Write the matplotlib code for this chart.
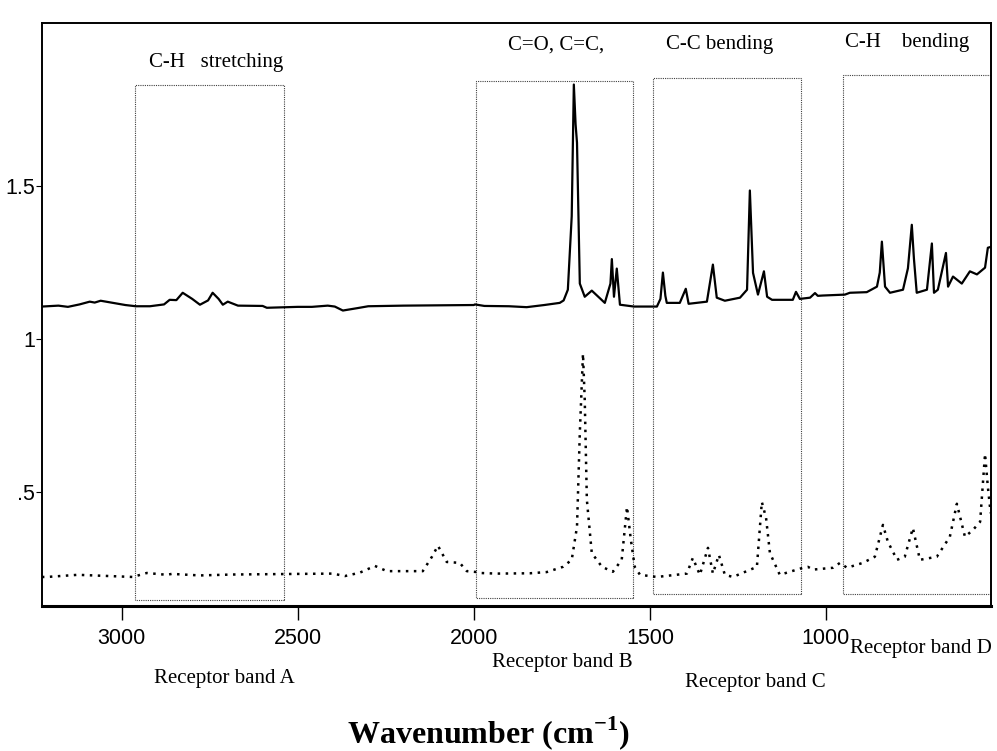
"""
IR spectra with receptor band boxes
"""

import matplotlib.pyplot as plt
from matplotlib.patches import Rectangle

plt.rcParams['mathtext.fontset'] = 'custom'
plt.rcParams['mathtext.rm'] = 'Liberation Serif'
plt.rcParams['mathtext.bf'] = 'Liberation Serif:bold'

# solid spectrum (wavenumber, absorbance)
solid_wn = [3227, 3180, 3153, 3120, 3091, 3077, 3060, 3030, 2990, 2960, 2920, 2880,
            2864, 2845, 2827, 2800, 2778, 2755, 2742, 2725, 2713, 2699, 2670, 2600,
            2588, 2500, 2460, 2415, 2395, 2372, 2330, 2300, 2200, 2000, 1997, 1970,
            1900, 1850, 1800, 1756, 1745, 1733, 1722, 1716, 1711, 1707, 1699, 1685,
            1665, 1628, 1612, 1608, 1602, 1594, 1585, 1545, 1480, 1470, 1463, 1456,
            1452, 1415, 1398, 1390, 1338, 1321, 1310, 1287, 1244, 1224, 1216, 1207,
            1193, 1176, 1167, 1153, 1094, 1085, 1074, 1045, 1031, 1023, 1009, 946,
            932, 884, 855, 847, 841, 832, 818, 781, 767, 756, 750, 742, 713, 699,
            693, 682, 659, 653, 639, 614, 591, 571, 548, 540, 531]
solid_ab = [1.105, 1.108, 1.104, 1.112, 1.121, 1.118, 1.124, 1.118, 1.110, 1.106, 1.106, 1.112,
            1.127, 1.126, 1.150, 1.130, 1.111, 1.125, 1.150, 1.130, 1.111, 1.121, 1.108, 1.107,
            1.101, 1.104, 1.104, 1.108, 1.105, 1.092, 1.100, 1.106, 1.108, 1.110, 1.112, 1.107,
            1.106, 1.103, 1.110, 1.117, 1.125, 1.160, 1.400, 1.830, 1.700, 1.640, 1.180, 1.137,
            1.157, 1.117, 1.180, 1.260, 1.137, 1.229, 1.111, 1.105, 1.105, 1.130, 1.216, 1.140,
            1.117, 1.117, 1.163, 1.114, 1.121, 1.242, 1.134, 1.124, 1.134, 1.160, 1.484, 1.215,
            1.144, 1.220, 1.137, 1.127, 1.127, 1.153, 1.130, 1.134, 1.149, 1.140, 1.141, 1.144,
            1.150, 1.152, 1.170, 1.216, 1.317, 1.170, 1.150, 1.160, 1.230, 1.372, 1.262, 1.150,
            1.160, 1.311, 1.150, 1.160, 1.280, 1.170, 1.203, 1.180, 1.220, 1.210, 1.232, 1.297, 1.300]

# dotted spectrum (wavenumber, absorbance)
dot_wn = [3227, 3213, 3125, 2969, 2929, 2872, 2858, 2778, 2685, 2401, 2366, 2324, 2281,
          2247, 2145, 2119, 2102, 2077, 2040, 2020, 1991, 1983, 1935, 1841, 1793, 1747,
          1722, 1707, 1699, 1690, 1685, 1679, 1665, 1636, 1605, 1580, 1565, 1554, 1543,
          1528, 1480, 1395, 1378, 1358, 1335, 1321, 1304, 1287, 1264, 1196, 1182, 1170,
          1159, 1131, 1065, 1051, 1037, 980, 960, 940, 895, 861, 838, 824, 798, 776, 753,
          733, 685, 648, 628, 605, 582, 562, 548, 540, 532]
dot_ab = [0.222, 0.222, 0.229, 0.222, 0.235, 0.229, 0.232, 0.227, 0.230, 0.233, 0.225, 0.236, 0.258,
          0.241, 0.241, 0.288, 0.324, 0.271, 0.268, 0.241, 0.238, 0.235, 0.233, 0.234, 0.238, 0.255,
          0.278, 0.386, 0.693, 0.951, 0.800, 0.474, 0.300, 0.255, 0.239, 0.278, 0.451, 0.343, 0.255,
          0.229, 0.222, 0.233, 0.284, 0.229, 0.317, 0.233, 0.294, 0.229, 0.222, 0.255, 0.467, 0.415,
          0.300, 0.229, 0.252, 0.255, 0.246, 0.252, 0.268, 0.252, 0.268, 0.288, 0.392, 0.337, 0.278, 0.288, 0.382,
          0.278, 0.288, 0.353, 0.461, 0.353, 0.376, 0.402, 0.624, 0.516, 0.430]

# receptor band boxes: (high wn, low wn, bottom, top)
boxes = [(2963, 2540, 0.147, 1.827),
         (1994, 1548, 0.153, 1.843),
         (1491, 1071, 0.167, 1.850),
         (952, 531, 0.165, 1.860)]

xticks = [3000, 2500, 2000, 1500, 1000]
yticks = [0.5, 1.0, 1.5]
ytick_labels = ['.5', '1', '1.5']

serif = 'Liberation Serif'
sans = 'Liberation Sans'

fig = plt.figure(figsize=(9.97, 7.51), dpi=100)
ax = fig.add_axes([0.042, 0.193, 0.952, 0.776])

ax.plot(solid_wn, solid_ab, color='k', lw=1.6)
ax.plot(dot_wn, dot_ab, color='k', lw=1.8, linestyle=(0, (1, 2.2)))

for hi, lo, bot, top in boxes:
    ax.add_patch(Rectangle((lo, bot), hi - lo, top - bot, fill=False,
                           edgecolor='0.25', lw=0.8, linestyle=(0, (1, 1))))

ax.set_xlim(3227, 531)
ax.set_ylim(0.127, 2.03)
ax.set_xticks(xticks)
ax.set_xticklabels([str(t) for t in xticks], fontfamily=sans, fontsize=15.5)
ax.set_yticks(yticks)
ax.set_yticklabels(ytick_labels, fontfamily=sans, fontsize=15.5)
ax.tick_params(axis='x', length=10, width=1.0, pad=6)
ax.tick_params(axis='y', length=4, width=0.8, pad=1)
for s in ax.spines.values():
    s.set_linewidth(1.4)
ax.spines['bottom'].set_linewidth(2.2)

# band labels on top
def ftxt(x, y, s, **kw):
    fig.text(x / 997, 1 - y / 751, s, ha='center', va='center', family=serif, **kw)

ftxt(216, 63, 'C-H   stretching', fontsize=15)
ftxt(556, 45, 'C=O, C=C,', fontsize=15)
ftxt(720, 45, 'C-C bending', fontsize=15)
ftxt(907, 42, 'C-H    bending', fontsize=15)

ftxt(224, 678, 'Receptor band A', fontsize=15)
ftxt(562, 663, 'Receptor band B', fontsize=15)
ftxt(755, 682, 'Receptor band C', fontsize=15)
ftxt(921, 648, 'Receptor band D', fontsize=15)

fig.text(488 / 997, 1 - 743 / 751, r'Wavenumber (cm$^{\mathbf{-1}}$)', ha='center',
         va='baseline', family=serif, fontsize=23, fontweight='bold')

fig.savefig('out.png', dpi=100)
